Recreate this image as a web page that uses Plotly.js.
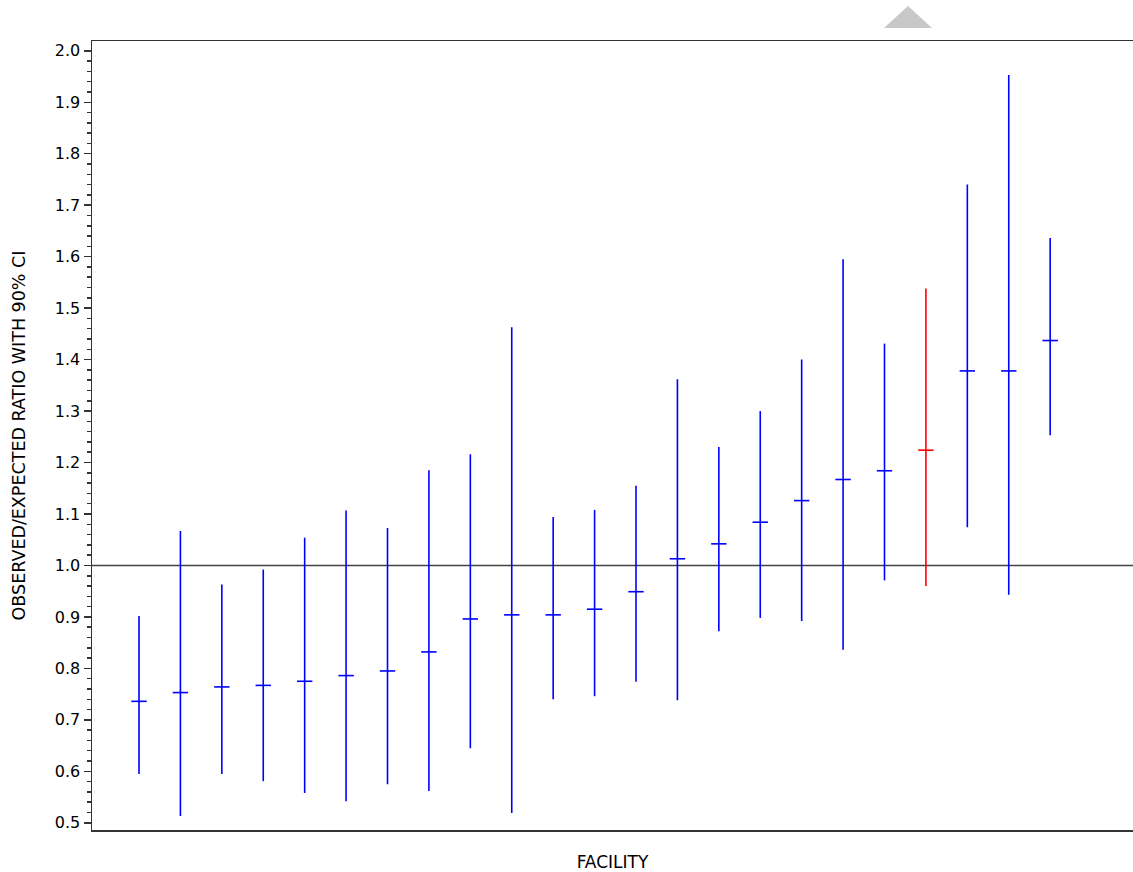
<!DOCTYPE html>
<html>
<head>
<meta charset="utf-8">
<script src="https://cdn.plot.ly/plotly-3.0.1.min.js"></script>
<style>
html,body{margin:0;padding:0;background:#fff;}
#chart{width:1133px;height:872px;}
</style>
</head>
<body>
<div id="chart"></div>
<script>
// Facility index (sorted by observed/expected ratio)
const facility = [1,2,3,4,5,6,7,8,9,10,11,12,13,14,15,16,17,18,19,20,21,22,23];
// Observed/expected ratio (point estimate)
const ratio = [0.736,0.753,0.764,0.767,0.775,0.786,0.795,0.832,0.896,0.904,0.904,0.915,0.949,1.013,1.042,1.084,1.126,1.167,1.184,1.224,1.378,1.378,1.437];
// Upper 90% confidence limit
const upper = [0.902,1.067,0.963,0.992,1.054,1.107,1.073,1.185,1.216,1.463,1.094,1.108,1.155,1.362,1.230,1.300,1.400,1.595,1.431,1.538,1.740,1.953,1.636];
// Lower 90% confidence limit
const lower = [0.595,0.513,0.595,0.581,0.558,0.542,0.575,0.562,0.645,0.519,0.740,0.746,0.774,0.738,0.872,0.898,0.892,0.836,0.971,0.960,1.074,0.943,1.253];
// Highlighted facility flag (1 = highlighted in red)
const highlight = [0,0,0,0,0,0,0,0,0,0,0,0,0,0,0,0,0,0,0,1,0,0,0];

function makeTrace(flag, color){
  const idx = facility.map((_, i) => i).filter(i => highlight[i] === flag);
  return {
    type: 'scatter',
    mode: 'markers',
    x: idx.map(i => facility[i]),
    y: idx.map(i => ratio[i]),
    marker: {symbol: 'line-ew', size: 11, color: color, line: {color: color, width: 1.6}},
    error_y: {
      type: 'data',
      symmetric: false,
      array: idx.map(i => upper[i] - ratio[i]),
      arrayminus: idx.map(i => ratio[i] - lower[i]),
      color: color,
      thickness: 1.6,
      width: 0
    },
    hoverinfo: 'x+y',
    showlegend: false
  };
}

const data = [makeTrace(0, '#0000ff'), makeTrace(1, '#ff0000')];

const fam = 'DejaVu Sans, Liberation Sans, Arial, sans-serif';
const font = {family: fam, size: 16, color: '#000'};

const layout = {
  width: 1133,
  height: 872,
  margin: {l: 92, r: 0, t: 41, b: 42, pad: 0},
  paper_bgcolor: '#fff',
  plot_bgcolor: '#fff',
  font: font,
  showlegend: false,
  xaxis: {
    range: [-0.135, 25.0],
    showgrid: false,
    zeroline: false,
    showline: true,
    mirror: true,
    linecolor: '#333',
    linewidth: 1.5,
    ticks: '',
    showticklabels: false,
    automargin: false,
    title: {text: 'FACILITY', font: {family: fam, size: 17, color: '#000'}, standoff: 27}
  },
  yaxis: {
    range: [0.486, 2.019],
    showgrid: false,
    zeroline: false,
    showline: true,
    linecolor: '#333',
    linewidth: 1.5,
    ticks: 'outside',
    ticklen: 7,
    tickwidth: 1.5,
    tickcolor: '#333',
    tick0: 0,
    dtick: 0.1,
    tickformat: '.1f',
    tickfont: font,
    minor: {dtick: 0.02, ticks: 'outside', ticklen: 4, tickwidth: 1.5, tickcolor: '#333'},
    automargin: false,
    title: {text: 'OBSERVED/EXPECTED RATIO WITH 90% CI', font: {family: fam, size: 17.5, color: '#000'}, standoff: 24}
  },
  shapes: [
    {type: 'line', xref: 'paper', yref: 'y', x0: 0, x1: 1, y0: 1.0, y1: 1.0,
     line: {color: '#444', width: 1.5}, layer: 'below'},
    {type: 'path', xref: 'paper', yref: 'paper',
     path: 'M 0.7608 1.0165 L 0.8069 1.0165 L 0.7839 1.0444 Z',
     fillcolor: '#c8c8c8', line: {width: 0}}
  ]
};

Plotly.newPlot('chart', data, layout, {displayModeBar: false, staticPlot: true});
</script>
</body>
</html>
